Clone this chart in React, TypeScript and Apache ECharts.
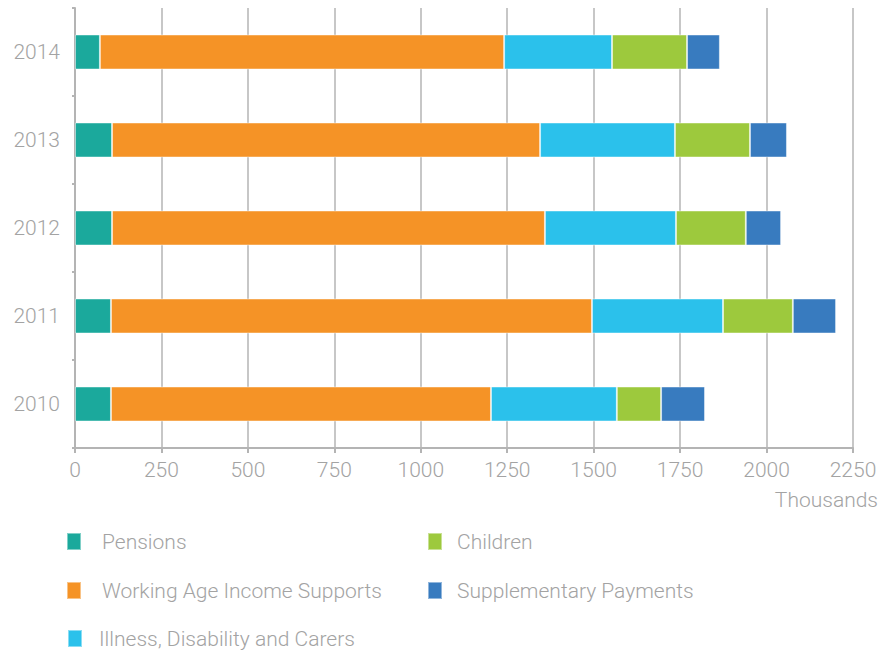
import React, { useEffect, useRef } from "react";
import * as echarts from "echarts";

const years = ["2010", "2011", "2012", "2013", "2014"];
const xTicks = [0, 250, 500, 750, 1000, 1250, 1500, 1750, 2000, 2250];
const pensions = [104, 104, 107, 107, 72];
const workingAge = [1099, 1391, 1252, 1238, 1169];
const illness = [364, 379, 379, 390, 312];
const children = [128, 202, 202, 217, 217];
const supplementary = [127, 125, 102, 107, 95];

const seriesNames = [
  "Pensions",
  "Working Age Income Supports",
  "Illness, Disability and Carers",
  "Children",
  "Supplementary Payments",
];
const seriesColors = ["#1BA99C", "#F59326", "#2BC1EB", "#9DC93D", "#387BBF"];
const seriesData = [pensions, workingAge, illness, children, supplementary];

const FONT = "Roboto, 'Liberation Sans', sans-serif";
const GREY = "#A3A3A3";

export default function App() {
  const ref = useRef<HTMLDivElement>(null);
  useEffect(() => {
    document.body.style.margin = "0";
    if (!ref.current) return;
    const chart = echarts.init(ref.current, null, { renderer: "svg" });
    const legendText = {
      color: GREY,
      fontFamily: FONT,
      fontWeight: 300,
      fontSize: 21,
      lineHeight: 20,
    };
    const legendPos = [
      { left: 61, top: 526, pad: 16 },
      { left: 61, top: 575, pad: 16 },
      { left: 62, top: 623, pad: 12 },
      { left: 422, top: 526, pad: 10 },
      { left: 422, top: 575, pad: 10 },
    ];
    chart.setOption({
      animation: false,
      textStyle: { fontFamily: FONT },
      grid: { left: 75, right: 30, top: 8, bottom: 206, containLabel: false },
      xAxis: {
        type: "value",
        min: xTicks[0],
        max: xTicks[xTicks.length - 1],
        interval: xTicks[1] - xTicks[0],
        axisLine: { show: true, lineStyle: { color: "#B4B4B4", width: 2 } },
        axisTick: { show: true, length: 5, lineStyle: { color: "#B4B4B4", width: 2 } },
        splitLine: { show: true, lineStyle: { color: "#B4B4B4", width: 1.5 } },
        axisLabel: {
          color: GREY,
          fontFamily: FONT,
          fontWeight: 300,
          fontSize: 21,
          margin: 11,
          formatter: (v: number) => String(v),
        },
      },
      yAxis: {
        type: "category",
        data: years,
        axisLine: { show: true, lineStyle: { color: "#B4B4B4", width: 2 } },
        axisTick: { show: true, length: 3, lineStyle: { color: "#B4B4B4", width: 2 } },
        axisLabel: {
          color: GREY,
          fontFamily: FONT,
          fontWeight: 300,
          fontSize: 21,
          margin: 15,
        },
      },
      legend: seriesNames.map((name, i) => ({
        left: legendPos[i].left,
        top: legendPos[i].top,
        itemWidth: 14,
        itemHeight: 17,
        icon: "rect",
        data: [name],
        textStyle: { ...legendText, padding: [0, 0, 0, legendPos[i].pad] },
      })),
      graphic: [
        {
          type: "text",
          right: 5,
          top: 489,
          style: {
            text: "Thousands",
            fill: GREY,
            font: `300 21px ${FONT}`,
          },
        },
      ],
      series: seriesNames.map((name, i) => ({
        name,
        type: "bar",
        stack: "total",
        barWidth: 35,
        data: seriesData[i],
        itemStyle: {
          color: seriesColors[i],
          borderColor: "rgba(255,255,255,0.45)",
          borderWidth: 1,
        },
      })),
    });
    return () => chart.dispose();
  }, []);
  return <div ref={ref} style={{ width: 883, height: 654 }} />;
}
